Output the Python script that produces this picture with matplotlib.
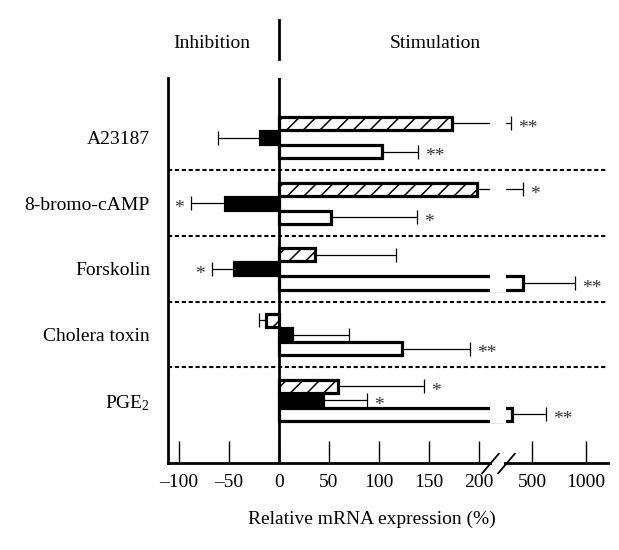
import matplotlib
matplotlib.use('Agg')
import matplotlib.pyplot as plt
import matplotlib.patches as mpatches
import numpy as np

plt.rcParams['font.family'] = ['Liberation Serif', 'DejaVu Serif']
plt.rcParams['mathtext.fontset'] = 'custom'
plt.rcParams['mathtext.rm'] = 'Liberation Serif'
plt.rcParams['mathtext.it'] = 'Liberation Serif:italic'
plt.rcParams['hatch.linewidth'] = 1.1

# data (relative mRNA expression, %)
treatments = ['A23187', '8-bromo-cAMP', 'Forskolin', 'Cholera toxin', 'PGE$_2$']

hatched_val = [173, 198, 36, -13, 59]
hatched_err = [133, 219, 81, 7, 86]
hatched_sig = ['**', '*', '', '', '*']

black_val = [-19, -54, -45, 13, 44]
black_err = [42, 34, 22, 57, 44]
black_sig = ['', '*', '*', '', '*']

white_val = [103, 52, 417, 123, 315]
white_err = [36, 86, 481, 68, 315]
white_sig = ['**', '*', '**', '**', '**']

xticks = [-100, -50, 0, 50, 100, 150, 200, 500, 1000]
xticklabels = ['\u2013100', '\u201350', '0', '50', '100', '150', '200', '500', '1000']

# broken axis: linear up to the break, compressed above it
BRK = 215
def fwd(v):
    v = np.asarray(v, dtype=float)
    return np.where(v <= BRK, v, 253 + 0.108 * (v - 500))

def inv(x):
    x = np.asarray(x, dtype=float)
    lo = 253 + 0.108 * (BRK - 500)
    return np.where(x <= BRK, x, np.where(x < lo, BRK, 500 + (x - 253) / 0.108))

gap_lo, gap_hi = 211, 259

fig = plt.figure(figsize=(6.19, 5.5), dpi=100)
ax = fig.add_axes([168/619, 87/550, 440/619, 385/550])
ax.set_xscale('function', functions=(fwd, inv))

ypos = np.arange(len(treatments))
offs = 0.215
h = 0.2
series = [
    (hatched_val, hatched_err, hatched_sig, -offs, dict(facecolor='white', hatch='//')),
    (black_val, black_err, black_sig, 0.0, dict(facecolor='black')),
    (white_val, white_err, white_sig, offs, dict(facecolor='white')),
]

for vals, errs, sigs, off, style in series:
    vals = np.array(vals, dtype=float)
    errs = np.array(errs, dtype=float)
    yy = ypos + off
    ax.barh(yy, vals, height=h, edgecolor='black', linewidth=2.3, zorder=2, **style)
    lower = np.where(vals < 0, errs, 0)
    upper = np.where(vals > 0, errs, 0)
    ax.errorbar(vals, yy, xerr=[lower, upper], fmt='none', ecolor='black',
                elinewidth=0.9, capsize=5, capthick=0.9, zorder=1)
    for v, e, s, y in zip(vals, errs, sigs, yy):
        end = v + e if v > 0 else v - e
        if max(v, end) > gap_lo:
            ax.add_patch(mpatches.Rectangle((gap_lo, y - 0.135), gap_hi - gap_lo, 0.27,
                                            facecolor='white', edgecolor='none', zorder=3))
        if s:
            dx = 5 if v > 0 else -5
            ax.annotate(s, xy=(end, y), xytext=(dx, -7), textcoords='offset points',
                        ha='left' if v > 0 else 'right', va='baseline',
                        fontsize=14, color='#333333')

# group separators
for i in range(len(treatments) - 1):
    ax.axhline(i + 0.5, color='black', lw=1.5, ls=(0, (2, 1.3)), zorder=4)

ax.axvline(0, color='black', lw=2, zorder=5)
ax.plot([0, 0], [-1.195, -1.79], color='black', lw=2, clip_on=False)

ax.set_xlim(-111, 1204)
ax.set_ylim(4.954, -0.906)

ax.set_xticks(xticks)
ax.set_xticklabels(xticklabels)
ax.minorticks_off()
ax.tick_params(axis='x', direction='in', length=16, width=1, pad=8, labelsize=14)
ax.set_yticks(ypos)
ax.set_yticklabels(treatments)
ax.tick_params(axis='y', length=0, pad=13, labelsize=14)

for side in ['top', 'right']:
    ax.spines[side].set_visible(False)
ax.spines['left'].set_linewidth(2)
ax.spines['bottom'].set_linewidth(2)

# break in the x axis
tr = ax.get_xaxis_transform()
ax.add_patch(mpatches.Rectangle((213, -0.02), 241 - 213, 0.04, transform=tr,
                                facecolor='white', edgecolor='none', clip_on=False, zorder=6))
for xb in [gap_lo, gap_hi]:
    ax.plot([xb], [0], transform=tr, marker=[(-0.85, -1), (0.85, 1)], markersize=15,
            markeredgewidth=1.3, color='black', clip_on=False, zorder=7)

fig.text(212/619, 1 - 43/550, 'Inhibition', ha='center', va='center', fontsize=14)
fig.text(435/619, 1 - 43/550, 'Stimulation', ha='center', va='center', fontsize=14)
fig.text(372/619, 1 - 519/550, 'Relative mRNA expression (%)', ha='center', va='center', fontsize=14)

plt.savefig('out.png')
